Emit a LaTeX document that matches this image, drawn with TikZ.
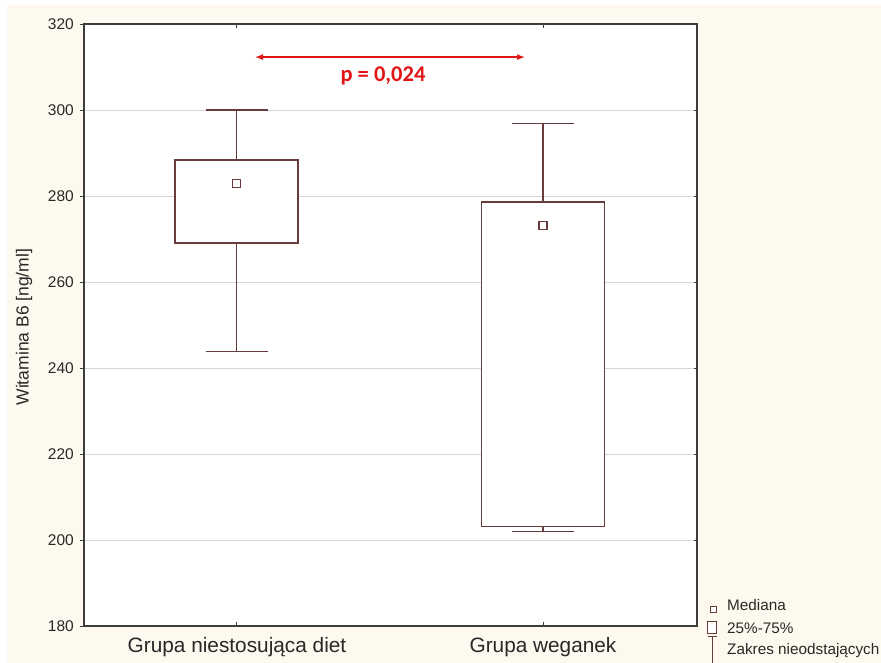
\documentclass[tikz,border=0pt]{standalone}
\usepackage{fontspec}
\setmainfont{Liberation Sans}
\newfontfamily\pfont{Carlito}
\usetikzlibrary{arrows.meta}

\definecolor{cream}{RGB}{253,249,238}
\definecolor{boxred}{RGB}{104,60,60}
\definecolor{gridgray}{RGB}{214,214,214}
\definecolor{axisgray}{RGB}{60,60,60}
\definecolor{textgray}{RGB}{40,40,40}
\definecolor{pred}{RGB}{225,22,22}

\tikzset{
	boxline/.style={draw=boxred, line width=1.3pt},
	gridline/.style={draw=gridgray, line width=0.9pt},
	axisline/.style={draw=axisgray, line width=1.2pt},
	ticklbl/.style={anchor=east, inner sep=0pt, text=textgray, font=\fontsize{15.5}{18}\selectfont},
	grouplbl/.style={inner sep=0pt, text=textgray, font=\fontsize{20.8}{24}\selectfont},
	legendlbl/.style={anchor=west, inner sep=0pt, text=textgray, font=\fontsize{15.3}{18}\selectfont},
}

\begin{document}
\begin{tikzpicture}[x=1pt, y=4.3pt]
	\useasboundingbox (0,171.4) rectangle (881,325.58);
	\fill[cream] (7,171.4) rectangle (881,324.42);
	\fill[white] (84,180) rectangle (697,320);
	
	% grid and ticks
	\foreach \v in {200,220,...,300}
	\draw[gridline] (84,\v) -- (697,\v);
	\foreach \v in {180,200,...,320} {
		\node[ticklbl] (t\v) at (74,\v) {\v};
		\draw[axisline, line width=0.8pt] (80,\v) -- (84,\v);
		\draw[axisline, line width=0.8pt] (694,\v) -- (697,\v);
	}
	\foreach \x in {236.5,543} {
		\draw[axisline, line width=0.8pt] (\x,180) -- (\x,180.9);
		\draw[axisline, line width=0.8pt] (\x,320) -- (\x,319.1);
	}
	\draw[axisline] (84,180) rectangle (697,320);
	
	% boxes: group / centre / min / q1 / median / q3 / max
	\foreach \g\x\lo\qa\med\qb\hi in {1/236.5/243.8/269.1/282.9/288.4/300,
		2/543/201.9/203.1/273.1/278.6/296.9} {
		\draw[boxline, fill=white] (\x-61.5,\qa) rectangle (\x+61.5,\qb);
		\draw[boxline] (\x,\qb) -- (\x,\hi) (\x-31,\hi) -- (\x+31,\hi);
		\draw[boxline] (\x,\qa) -- (\x,\lo) (\x-31,\lo) -- (\x+31,\lo);
		\draw[boxline, line width=1.1pt, fill=white] (\x-4,\med-0.93) rectangle (\x+4,\med+0.93);
	}
	
	% p value
	\coordinate (pL) at (255,312.3);
	\coordinate (pR) at (525,312.3);
	\draw[pred, line width=1.3pt, {Latex[length=8pt,width=6pt]}-{Latex[length=8pt,width=6pt]}] (pL) -- (pR);
	\node[text=pred, inner sep=0pt, font=\pfont\bfseries\fontsize{22.5}{26}\selectfont] (pval) at (383,308) {p = 0,024};
	
	% axis labels
	\node[grouplbl] (g1) at (237,175.1) {Grupa niestosująca diet};
	\node[grouplbl] (g2) at (543,175.1) {Grupa weganek};
	\node[rotate=90, inner sep=0pt, text=textgray, font=\fontsize{17.5}{20}\selectfont] (ylab) at (24,249.5) {Witamina B6 [ng/ml]};
	
	% legend
	\draw[boxline, line width=1pt, fill=white] (710.3,183.1) rectangle (716.3,184.5);
	\node[legendlbl] (lmed) at (727,184.88) {Mediana};
	\draw[boxline, line width=1pt, fill=white] (707.3,178.3) rectangle (716.7,181);
	\node[legendlbl] (lbox) at (727,179.4) {25\%-75\%};
	\draw[boxline, line width=1pt] (708,177.67) -- (717,177.67) (712.5,177.67) -- (712.5,171.4);
	\node[legendlbl] (lwhisk) at (727,174.19) {Zakres nieodstających};
\end{tikzpicture}
\end{document}
